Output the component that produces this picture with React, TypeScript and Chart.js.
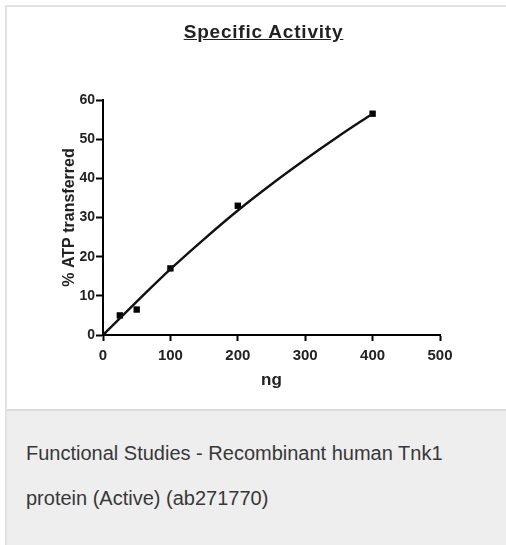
import React, { useEffect, useRef } from "react";
import { Chart, registerables } from "chart.js";

Chart.register(...registerables);

const doseNg = [0, 25, 50, 100, 200, 400];
const atpPercent = [0, 5, 6.5, 17, 33, 56.5];
const fitNg = [0, 50, 100, 150, 200, 250, 300, 350, 400];
const fitPercent = [0, 8.5, 16.8, 24.5, 31.8, 38.5, 44.8, 50.8, 56.5];
const xTicks = [0, 100, 200, 300, 400, 500];
const yTicks = [0, 10, 20, 30, 40, 50, 60];

const FONT = "'Liberation Sans', Arial, sans-serif";

export default function App() {
  const ref = useRef<HTMLCanvasElement | null>(null);

  useEffect(() => {
    if (!ref.current) return;
    const chart = new Chart(ref.current, {
      type: "scatter",
      data: {
        datasets: [
          {
            label: "fit",
            type: "line",
            data: fitNg.map((x, i) => ({ x, y: fitPercent[i] })),
            borderColor: "#111",
            borderWidth: 2.4,
            pointRadius: 0,
            cubicInterpolationMode: "monotone",
            fill: false,
          } as any,
          {
            label: "data",
            data: doseNg.map((x, i) => ({ x, y: atpPercent[i] })),
            pointStyle: "rect",
            pointRadius: 4.5,
            backgroundColor: "#000",
            borderColor: "#000",
            borderWidth: 0,
          },
        ],
      },
      options: {
        responsive: false,
        animation: false,
        layout: { padding: { left: 53, right: 66, top: 93, bottom: 18 } },
        plugins: { legend: { display: false }, tooltip: { enabled: false }, title: { display: false } },
        scales: {
          x: {
            type: "linear",
            min: 0,
            max: 500,
            afterBuildTicks: (s: any) => { s.ticks = xTicks.map((v) => ({ value: v })); },
            afterFit: (s: any) => { s.height = 56; },
            grid: { drawOnChartArea: false, tickLength: 6, tickColor: "#000", tickWidth: 2 },
            border: { color: "#000", width: 2 },
            ticks: { color: "#222", font: { family: FONT, size: 15, weight: "bold" }, padding: 6, maxRotation: 0 },
            title: { display: true, text: "ng", color: "#222", font: { family: FONT, size: 17, weight: "bold" }, padding: { top: 4, bottom: 0 } },
          },
          y: {
            type: "linear",
            min: 0,
            max: 60,
            afterBuildTicks: (s: any) => { s.ticks = yTicks.map((v) => ({ value: v })); },
            afterFit: (s: any) => { s.width = 43; },
            grid: { drawOnChartArea: false, tickLength: 7, tickColor: "#000", tickWidth: 2 },
            border: { color: "#000", width: 2 },
            ticks: { color: "#222", font: { family: FONT, size: 14, weight: "bold" }, padding: 1 },
            title: { display: true, text: "% ATP transferred", color: "#222", font: { family: FONT, size: 16, weight: "bold" }, padding: { top: 0, bottom: 0 } },
          },
        },
      },
    });
    return () => chart.destroy();
  }, []);

  return (
    <div style={{ position: "absolute", left: 5, top: 5, width: 501, height: 540, borderLeft: "2px solid #e2e2e2", borderTop: "2px solid #e2e2e2", background: "#fff", boxSizing: "border-box" }}>
      <div style={{ position: "relative", height: 402, background: "#fff" }}>
        <div style={{ position: "absolute", left: 0, width: 513, top: 14, textAlign: "center", fontFamily: FONT, fontWeight: "bold", fontSize: 19, letterSpacing: 0.8, color: "#222", textDecoration: "underline" }}>
          Specific Activity
        </div>
        <canvas ref={ref} width={499} height={402} style={{ display: "block" }} />
      </div>
      <div style={{ borderTop: "2px solid #dcdcdc", background: "#edeeed", height: 136, boxSizing: "border-box", padding: "20px 0 0 19px", fontFamily: FONT, fontSize: 20, color: "#383838", lineHeight: "45px" }}>
        Functional Studies - Recombinant human Tnk1<br />protein (Active) (ab271770)
      </div>
    </div>
  );
}
